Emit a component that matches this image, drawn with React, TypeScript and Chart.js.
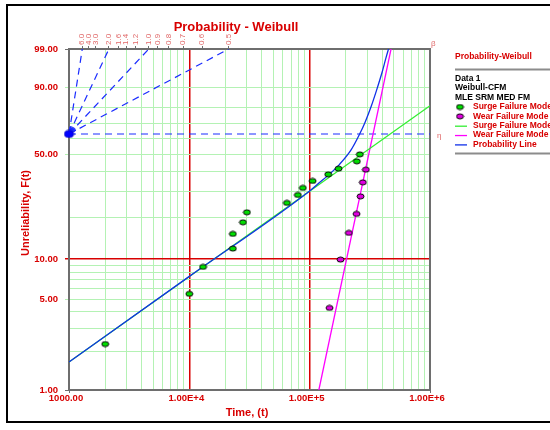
import React, { useEffect, useRef } from 'react';
import { Chart, registerables, LinearScale } from 'chart.js';

Chart.register(...registerables);

// ---------------- data ----------------
const titleText = 'Probability - Weibull';
const xTitle = 'Time, (t)';
const yTitle = 'Unreliability, F(t)';

const surgeTime = [2000, 10000, 13000, 23000, 23000, 27900, 30100, 64700, 79800, 87800, 105700, 142700, 173800, 246600, 261200];
const surgeUnrel = [2.27, 5.5, 8.77, 11.98, 15.3, 18.5, 21.72, 25.16, 28.43, 31.57, 34.96, 38.39, 41.53, 45.76, 50.02];

const wearTime = [146300, 180600, 211700, 245200, 264800, 276600, 293000];
const wearUnrel = [4.3, 9.94, 15.56, 21.17, 27.84, 34.26, 40.96];

const surgeLineTime = [1000, 1000000];
const surgeLineUnrel = [1.65, 81.0];

const wearLineTime = [119200, 474500];
const wearLineUnrel = [1.0, 99.0];

const probTime = [1000, 10000, 100000, 120000, 141600, 177100, 221600, 259700, 290000, 324800, 360000, 400900, 430000, 452000];
const probUnrel = [1.65, 7.45, 30.2, 34.0, 37.7, 44.0, 53.0, 63.0, 71.3, 80.7, 88.9, 95.3, 98.0, 99.0];

const xMin = 1000;
const xMax = 1000000;
const yMin = 1;
const yMax = 99;

const xGridValues = [
  1000, 2000, 3000, 4000, 5000, 6000, 7000, 8000, 9000,
  10000, 20000, 30000, 40000, 50000, 60000, 70000, 80000, 90000,
  100000, 200000, 300000, 400000, 500000, 600000, 700000, 800000, 900000,
  1000000,
];
const xLabelValues = [1000, 10000, 100000, 1000000];
const xLabelTexts = ['1000.00', '1.00E+4', '1.00E+5', '1.00E+6'];
const xRedValues = [10000, 100000];

const yGridValues = [1, 2, 3, 4, 5, 6, 7, 8, 9, 10, 20, 30, 40, 50, 60, 70, 80, 90, 99];
const yLabelValues = [1, 5, 10, 50, 90, 99];
const yRedValues = [10];

const poleTime = 1000;
const poleUnrel = 63.21;
const betaValues = [6.0, 4.0, 3.0, 2.0, 1.6, 1.4, 1.2, 1.0, 0.9, 0.8, 0.7, 0.6, 0.5];
const betaLabels = ['6.0', '4.0', '3.0', '2.0', '1.6', '1.4', '1.2', '1.0', '0.9', '0.8', '0.7', '0.6', '0.5'];
const dashedBetas = [6.0, 2.0, 1.0, 0.5];

const legendHeader = 'Probability-Weibull';
const legendInfo = ['Data 1', 'Weibull-CFM', 'MLE SRM MED FM'];

// ---------------- styling ----------------
const FONT = '"Liberation Sans", Arial, sans-serif';
const RED = '#d80000';
const GRID_GREEN = '#b4f2b4';
const BORDER_GRAY = '#6e6e6e';
const LIGHT_RED = '#e06868';
const BLUE = '#1030e8';
const DASH_BLUE = '#1a2cff';
const GREEN_LINE = '#33ee33';
const MAGENTA = '#ff00ff';

// ---------------- Weibull probability scale ----------------
const W = (p: number) => Math.log(-Math.log(1 - p / 100));

class WeibullScale extends LinearScale {
  static id = 'weibull';
  static defaults = {};
  getPixelForValue(value: any) {
    if (value === null || value === undefined || isNaN(value)) return NaN;
    const a = W(this.min);
    const b = W(this.max);
    return this.getPixelForDecimal((W(value) - a) / (b - a));
  }
  getValueForPixel(pixel: number) {
    const a = W(this.min);
    const b = W(this.max);
    const w = a + this.getDecimalForPixel(pixel) * (b - a);
    return 100 * (1 - Math.exp(-Math.exp(w)));
  }
}
Chart.register(WeibullScale as any);

// time at which a line of slope beta through the pole reaches the top of the paper
const betaTopTime = (b: number) => poleTime * Math.exp((W(yMax) - W(poleUnrel)) / b);

const pts = (xs: number[], ys: number[]) => xs.map((x, i) => ({ x, y: ys[i] }));

function makeEllipse(fill: string, w: number, h: number, stroke: string | null) {
  const c = document.createElement('canvas');
  c.width = w + 2;
  c.height = h + 2;
  const g = c.getContext('2d')!;
  g.beginPath();
  g.ellipse(c.width / 2, c.height / 2, w / 2, h / 2, 0, 0, Math.PI * 2);
  g.fillStyle = fill;
  g.fill();
  if (stroke) {
    g.lineWidth = 1;
    g.strokeStyle = stroke;
    g.stroke();
  }
  return c;
}

const decorPlugin = {
  id: 'decor',
  beforeDatasetsDraw(chart: any) {
    const { ctx, chartArea: a, scales } = chart;
    ctx.save();
    ctx.strokeStyle = BORDER_GRAY;
    ctx.lineWidth = 2;
    ctx.strokeRect(a.left, a.top, a.right - a.left, a.bottom - a.top);
    // short rays around the pole for every beta
    const px = scales.x.getPixelForValue(poleTime);
    const py = scales.y.getPixelForValue(poleUnrel);
    ctx.strokeStyle = DASH_BLUE;
    ctx.lineWidth = 1;
    betaValues.forEach((b) => {
      const tx = scales.x.getPixelForValue(betaTopTime(b));
      const ty = scales.y.getPixelForValue(yMax);
      const dx = tx - px;
      const dy = ty - py;
      const len = Math.hypot(dx, dy);
      ctx.beginPath();
      ctx.moveTo(px + (dx / len) * 4, py + (dy / len) * 4);
      ctx.lineTo(px + (dx / len) * 8, py + (dy / len) * 8);
      ctx.stroke();
    });
    ctx.restore();
  },
  afterDraw(chart: any) {
    const { ctx, chartArea: a, scales } = chart;
    ctx.save();
    // outer frame
    ctx.strokeStyle = '#000';
    ctx.lineWidth = 2;
    ctx.strokeRect(7, 5, 620, 417);

    // title
    ctx.fillStyle = RED;
    ctx.font = `bold 13px ${FONT}`;
    ctx.textAlign = 'center';
    ctx.textBaseline = 'alphabetic';
    ctx.fillText(titleText, 236, 31);

    // axis titles
    ctx.font = `bold 11px ${FONT}`;
    ctx.textBaseline = 'middle';
    ctx.fillText(xTitle, 247, 413);
    ctx.save();
    ctx.translate(26, 213);
    ctx.rotate(-Math.PI / 2);
    ctx.fillText(yTitle, 0, 0);
    ctx.restore();

    // beta / eta markers
    ctx.fillStyle = LIGHT_RED;
    ctx.font = `8px ${FONT}`;
    ctx.textAlign = 'left';
    ctx.fillText('β', a.right + 1, a.top - 5);
    ctx.fillText('η', a.right + 7, scales.y.getPixelForValue(poleUnrel) + 2);

    // legend
    const lx = 455;
    ctx.textAlign = 'left';
    ctx.textBaseline = 'middle';
    ctx.font = `bold 8.5px ${FONT}`;
    ctx.fillStyle = RED;
    ctx.fillText(legendHeader, lx, 57);
    ctx.strokeStyle = '#8c8c8c';
    ctx.lineWidth = 2;
    ctx.beginPath();
    ctx.moveTo(lx, 69.5);
    ctx.lineTo(560, 69.5);
    ctx.stroke();
    ctx.fillStyle = '#000';
    legendInfo.forEach((t, i) => ctx.fillText(t, lx, 78.5 + i * 9.4));

    const entries = [
      { ds: 0, kind: 'point' },
      { ds: 1, kind: 'point' },
      { ds: 3, kind: 'line' },
      { ds: 4, kind: 'line' },
      { ds: 2, kind: 'line' },
    ];
    entries.forEach((e, i) => {
      const ds = chart.data.datasets[e.ds];
      const y = 107 + i * 9.35;
      if (e.kind === 'point') {
        const img = ds.pointStyle;
        ctx.drawImage(img, 460 - img.width / 2, y - img.height / 2);
      } else {
        ctx.strokeStyle = ds.borderColor;
        ctx.lineWidth = 1.3;
        ctx.beginPath();
        ctx.moveTo(lx, y + 0.5);
        ctx.lineTo(lx + 12, y + 0.5);
        ctx.stroke();
      }
      ctx.fillStyle = RED;
      ctx.fillText(ds.label, 473, y);
    });
    ctx.strokeStyle = '#8c8c8c';
    ctx.lineWidth = 2;
    ctx.beginPath();
    ctx.moveTo(lx, 153.5);
    ctx.lineTo(560, 153.5);
    ctx.stroke();
    ctx.restore();
  },
};

export default function App() {
  const ref = useRef<HTMLCanvasElement>(null);

  useEffect(() => {
    const surgeMarker = makeEllipse('#00dd00', 7, 5, '#000');
    const wearMarker = makeEllipse('#e000e0', 7, 5, '#000');
    const poleMarker = makeEllipse('#0000ff', 9, 7, '#0000cc');

    const lineBase = { type: 'line', pointRadius: 0, fill: false, tension: 0 };

    const datasets: any[] = [
      { type: 'scatter', label: 'Surge Failure Mode', data: pts(surgeTime, surgeUnrel), pointStyle: surgeMarker, pointRadius: 4, order: 0 },
      { type: 'scatter', label: 'Wear Failure Mode', data: pts(wearTime, wearUnrel), pointStyle: wearMarker, pointRadius: 4, order: 0 },
      { ...lineBase, label: 'Probability Line', data: pts(probTime, probUnrel), borderColor: BLUE, borderWidth: 1.3, cubicInterpolationMode: 'monotone', order: 2 },
      { ...lineBase, label: 'Surge Failure Mode', data: pts(surgeLineTime, surgeLineUnrel), borderColor: GREEN_LINE, borderWidth: 1.3, order: 3 },
      { ...lineBase, label: 'Wear Failure Mode', data: pts(wearLineTime, wearLineUnrel), borderColor: MAGENTA, borderWidth: 1.3, order: 4 },
      { type: 'scatter', label: 'pole', data: [{ x: poleTime, y: poleUnrel }], pointStyle: poleMarker, pointRadius: 4, order: 1, clip: false },
      { ...lineBase, label: 'eta', data: [{ x: poleTime, y: poleUnrel }, { x: xMax, y: poleUnrel }], borderColor: DASH_BLUE, borderWidth: 1.2, borderDash: [7, 5], order: 5, clip: false },
      ...dashedBetas.map((b) => ({
        ...lineBase,
        label: 'beta ' + b,
        data: [{ x: poleTime, y: poleUnrel }, { x: betaTopTime(b), y: yMax }],
        borderColor: DASH_BLUE,
        borderWidth: 1.2,
        borderDash: [7, 5],
        order: 5,
      })),
    ];

    const chart = new Chart(ref.current as HTMLCanvasElement, {
      type: 'scatter',
      data: { datasets },
      options: {
        animation: false,
        responsive: false,
        devicePixelRatio: 1,
        events: [],
        layout: { padding: { left: 0, right: 120, top: 0, bottom: 0 } },
        plugins: { legend: { display: false }, tooltip: { enabled: false }, title: { display: false } },
        scales: {
          x: {
            type: 'logarithmic',
            position: 'bottom',
            min: xMin,
            max: xMax,
            bounds: 'data',
            afterBuildTicks: (s: any) => { s.ticks = xGridValues.map((v) => ({ value: v })); },
            afterFit: (s: any) => { s.height = 40; },
            border: { display: false },
            grid: {
              tickLength: 3,
              lineWidth: (c: any) => (xRedValues.includes(c.tick && c.tick.value) ? 1.5 : 1),
              color: (c: any) => {
                const v = c.tick && c.tick.value;
                if (v === xMin || v === xMax) return BORDER_GRAY;
                return xRedValues.includes(v) ? RED : GRID_GREEN;
              },
              tickColor: (c: any) => {
                const v = c.tick && c.tick.value;
                return v === xMin || v === xMax ? BORDER_GRAY : 'rgba(0,0,0,0)';
              },
            },
            ticks: {
              autoSkip: false,
              maxRotation: 0,
              minRotation: 0,
              padding: 0,
              labelOffset: -3,
              color: RED,
              font: { family: FONT, size: 9.5, weight: 'bold' },
              callback: (v: any) => {
                const i = xLabelValues.indexOf(Number(v));
                return i >= 0 ? xLabelTexts[i] : '';
              },
            },
          },
          x2: {
            type: 'logarithmic',
            position: 'top',
            min: xMin,
            max: xMax,
            bounds: 'data',
            afterBuildTicks: (s: any) => { s.ticks = betaValues.map((b) => ({ value: betaTopTime(b) })); },
            afterFit: (s: any) => { s.height = 49; },
            border: { display: false },
            grid: { drawOnChartArea: false, tickLength: 3, tickColor: BORDER_GRAY, lineWidth: 1 },
            ticks: {
              autoSkip: false,
              maxRotation: 90,
              minRotation: 90,
              padding: 1,
              labelOffset: 9.5,
              color: LIGHT_RED,
              font: { family: FONT, size: 8 },
              callback: (_v: any, i: number) => betaLabels[i],
            },
          },
          y: {
            type: 'weibull',
            position: 'left',
            min: yMin,
            max: yMax,
            bounds: 'data',
            afterBuildTicks: (s: any) => { s.ticks = yGridValues.map((v) => ({ value: v })); },
            afterFit: (s: any) => { s.width = 69; },
            border: { display: false },
            grid: {
              tickLength: 4,
              lineWidth: (c: any) => (yRedValues.includes(c.tick && c.tick.value) ? 1.5 : 1),
              color: (c: any) => {
                const v = c.tick && c.tick.value;
                if (v === yMin || v === yMax) return BORDER_GRAY;
                return yRedValues.includes(v) ? RED : GRID_GREEN;
              },
              tickColor: (c: any) => {
                const v = c.tick && c.tick.value;
                if (!yLabelValues.includes(v)) return 'rgba(0,0,0,0)';
                if (v === yMin || v === yMax) return BORDER_GRAY;
                return yRedValues.includes(v) ? RED : GRID_GREEN;
              },
            },
            ticks: {
              autoSkip: false,
              padding: 7,
              color: RED,
              font: { family: FONT, size: 9.5, weight: 'bold' },
              callback: (v: any) => (yLabelValues.includes(Number(v)) ? Number(v).toFixed(2) : ''),
            },
          },
        },
      } as any,
      plugins: [decorPlugin],
    } as any);

    return () => chart.destroy();
  }, []);

  return (
    <div style={{ position: 'absolute', left: 0, top: 0, width: 550, height: 430, background: '#fff' }}>
      <canvas ref={ref} width={550} height={430} style={{ display: 'block', width: 550, height: 430 }} />
    </div>
  );
}
